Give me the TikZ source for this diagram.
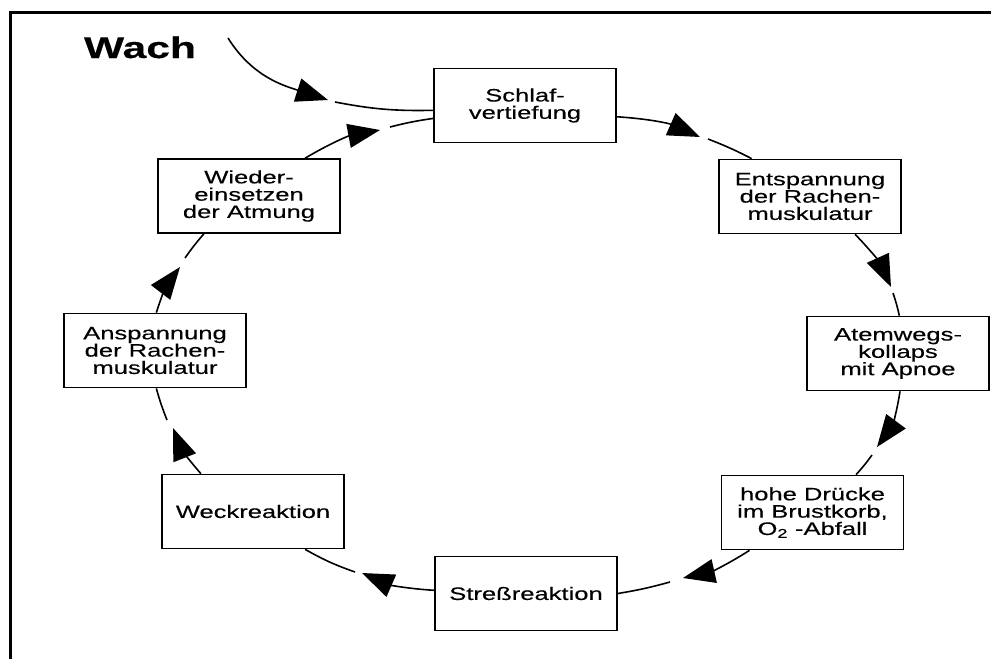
\documentclass[tikz,border=0pt]{standalone}
\usepackage{fontspec}
\setmainfont[FakeStretch=1.42, FakeBold=0.3]{Liberation Sans}
\usetikzlibrary{arrows.meta}

\begin{document}
\begin{tikzpicture}[x=1pt, y=1pt,
    kasten/.style={draw, line width=1.7pt, fill=white, minimum width=182pt, minimum height=74pt,
        inner sep=0pt, align=center, font=\fontsize{18}{17.3}\selectfont},
    pfeil/.style={line width=1.6pt, -{Triangle[length=32pt, width=24pt]}},
    linie/.style={line width=1.6pt}]
    \useasboundingbox (0,0) rectangle (991,-659);
    \draw[line width=3pt] (10,-659) |- (991,-12); % Rahmen

    \node[anchor=base, font=\fontsize{30}{30}\selectfont\bfseries] (wach) at (140,-58) {Wach};

    % Kaesten im Kreis
    \node[kasten] (schlaf) at (525,-105.5) {Schlaf-\\vertiefung};
    \node[kasten] (entsp) at (810,-196.5) {Entspannung\\der Rachen-\\muskulatur};
    \node[kasten] (atem) at (898,-353.5) {Atemwegs-\\kollaps\\mit Apnoe};
    \node[kasten] (hohe) at (812.5,-512.5) {hohe Drücke\\im Brustkorb,\\O\textsubscript{2} -Abfall};
    \node[kasten] (stress) at (526,-593.5) {Streßreaktion};
    \node[kasten] (weck) at (253,-511.5) {Weckreaktion};
    \node[kasten] (ansp) at (155,-350.5) {Anspannung\\der Rachen-\\muskulatur};
    \node[kasten] (wieder) at (249,-196) {Wieder-\\einsetzen\\der Atmung};

    % Pfeilspitzen (t) und Luecken (g)
    \coordinate (w0) at (228,-38);
    \coordinate (t0) at (328,-100); \coordinate (g0) at (335,-102);
    \coordinate (t1) at (700,-137); \coordinate (g1) at (708,-139);
    \coordinate (t2) at (891,-287); \coordinate (g2) at (893,-293);
    \coordinate (t3) at (877,-447); \coordinate (g3) at (872,-455);
    \coordinate (t4) at (683,-578); \coordinate (g4) at (670,-582);
    \coordinate (t5) at (362,-573); \coordinate (g5) at (355,-572);
    \coordinate (t6) at (173,-428); \coordinate (g6) at (167,-420);
    \coordinate (t7) at (180,-267); \coordinate (g7) at (185,-258);
    \coordinate (t8) at (380,-130); \coordinate (g8) at (390,-127);

    \draw[pfeil] (w0) to[out=-58, in=162] (t0); % vom Wachzustand
    \draw[linie] (g0) to[bend right=6] (schlaf.183);
    \draw[pfeil] (schlaf.-7) to[bend left=10] (t1);
    \draw[linie] (g1) to[bend left=3] (entsp.147);
    \draw[pfeil] (entsp.-40) to[bend left=10] (t2);
    \draw[linie] (g2) to[bend left=3] (atem.88);
    \draw[pfeil] (atem.-87) to[bend left=14] (t3);
    \draw[linie] (g3) to[bend left=3] (hohe.41);
    \draw[pfeil] (hohe.211) to[bend left=10] (t4);
    \draw[linie] (g4) to[bend left=3] (stress.east);
    \draw[pfeil] (stress.178) to[bend left=10] (t5);
    \draw[linie] (g5) to[bend left=5] (weck.-36);
    \draw[pfeil] (weck.144) to[bend left=10] (t6);
    \draw[linie] (g6) to[bend left=3] (ansp.-88);
    \draw[pfeil] (ansp.88) to[bend left=10] (t7);
    \draw[linie] (g7) to[bend left=3] (wieder.220);
    \draw[pfeil] (wieder.34) to[bend left=10] (t8);
    \draw[linie] (g8) to[bend left=3] (schlaf.188);
\end{tikzpicture}
\end{document}
